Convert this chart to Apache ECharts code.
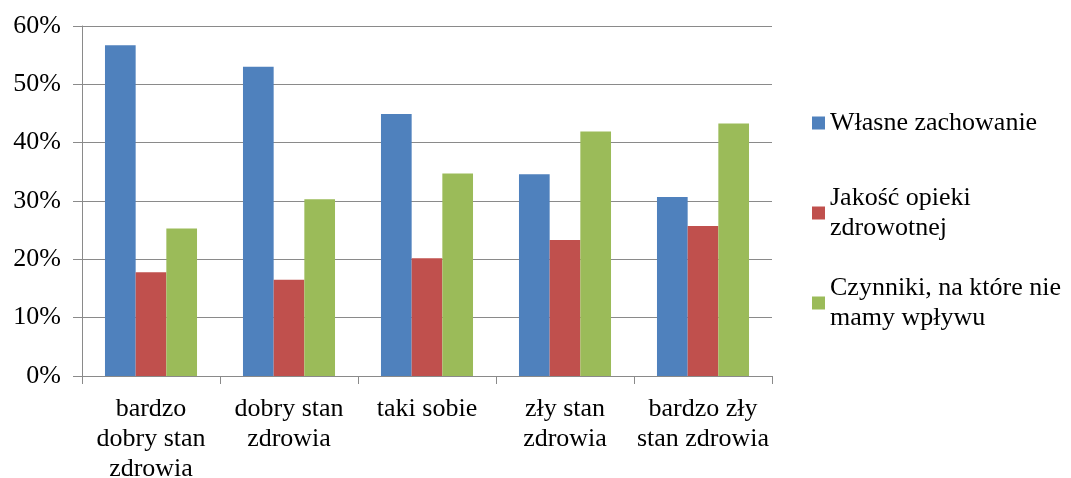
<!DOCTYPE html>
<html>
<head>
<meta charset="utf-8">
<script src="https://cdn.jsdelivr.net/npm/echarts@6/dist/echarts.min.js"></script>
<style>html,body{margin:0;padding:0;background:#fff}#c{width:1071px;height:478px}</style>
</head>
<body>
<div id="c"></div>
<script>
var categories = ['bardzo\ndobry stan\nzdrowia', 'dobry stan\nzdrowia', 'taki sobie', 'zły stan\nzdrowia', 'bardzo zły\nstan zdrowia'];
var seriesNames = ['Własne zachowanie', 'Jakość opieki zdrowotnej', 'Czynniki, na które nie mamy wpływu'];
var legendLabels = ['Własne zachowanie', 'Jakość opieki\nzdrowotnej', 'Czynniki, na które nie\nmamy wpływu'];
var wlasne = [56.7, 53.0, 44.9, 34.6, 30.7];
var jakosc = [17.8, 16.5, 20.2, 23.3, 25.7];
var czynniki = [25.3, 30.3, 34.7, 41.9, 43.3];
var yTicks = [0, 10, 20, 30, 40, 50, 60];

var colors = ['#4F81BD', '#C0504D', '#9BBB59'];
var font = 'Liberation Serif';
var gridColor = '#8a8a8a';

var chart = echarts.init(document.getElementById('c'), null, {renderer: 'canvas'});
function legendFmt(n) { return legendLabels[seriesNames.indexOf(n)]; }
var legendBase = {
  orient: 'vertical', left: 812, padding: 0, itemWidth: 13, itemHeight: 13,
  icon: 'rect', formatter: legendFmt, selectedMode: false
};
chart.setOption({
  animation: false,
  color: colors,
  grid: {left: 82, right: 299, top: 26, bottom: 102, containLabel: false, outerBoundsMode: 'none'},
  legend: [
    Object.assign({}, legendBase, {top: 108, data: [seriesNames[0]],
      textStyle: {fontFamily: font, fontSize: 26, color: '#000', lineHeight: 30}}),
    Object.assign({}, legendBase, {top: 168, data: [seriesNames[1]],
      textStyle: {fontFamily: font, fontSize: 26, color: '#000', lineHeight: 30, padding: [30, 0, 0, 0]}}),
    Object.assign({}, legendBase, {top: 258, data: [seriesNames[2]],
      textStyle: {fontFamily: font, fontSize: 26, color: '#000', lineHeight: 30, padding: [30, 0, 0, 0]}})
  ],
  xAxis: {
    type: 'category', data: categories,
    axisLine: {lineStyle: {color: gridColor, width: 1}},
    axisTick: {show: true, length: 8, lineStyle: {color: gridColor}},
    axisLabel: {fontFamily: font, fontSize: 26, color: '#000', lineHeight: 30, margin: 18, interval: 0}
  },
  yAxis: {
    type: 'value', min: yTicks[0], max: yTicks[yTicks.length - 1], interval: 10,
    axisLine: {show: true, lineStyle: {color: gridColor, width: 1}},
    axisTick: {show: true, length: 9, lineStyle: {color: gridColor}},
    splitLine: {lineStyle: {color: gridColor, width: 1}},
    axisLabel: {fontFamily: font, fontSize: 26, color: '#000', margin: 21, formatter: '{value}%'}
  },
  series: [
    {name: seriesNames[0], type: 'bar', data: wlasne, barGap: '0%', barCategoryGap: '33.3%'},
    {name: seriesNames[1], type: 'bar', data: jakosc, barGap: '0%', barCategoryGap: '33.3%'},
    {name: seriesNames[2], type: 'bar', data: czynniki, barGap: '0%', barCategoryGap: '33.3%'}
  ]
});
</script>
</body>
</html>
